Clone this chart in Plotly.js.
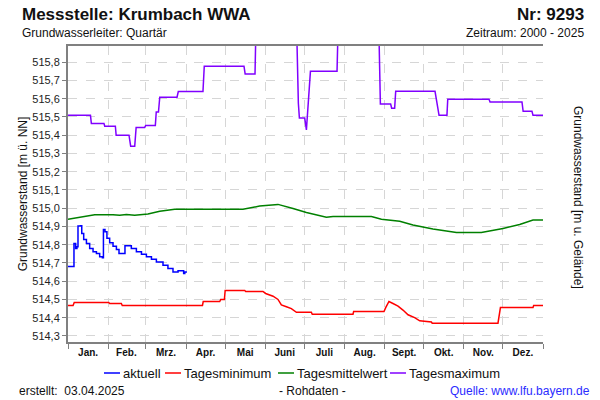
<!DOCTYPE html>
<html>
<head>
<meta charset="utf-8">
<script src="https://cdn.plot.ly/plotly-3.0.1.min.js"></script>
<style>html,body{margin:0;padding:0;background:#fff;}#chart{width:600px;height:400px;}</style>
</head>
<body>
<div id="chart"></div>
<script>
// Tag im Jahr (0 = 1. Jan.) und Wasserstand [m ü. NN]
const aktuellX = [0,3.9,4.6,5.9,6.9,7.7,9.6,10.6,12.1,14.2,16.7,19.3,21.9,24.4,26.5,27.3,28.5,30,32.1,34.7,37.3,39.3,42.9,43.9,46.2,48.8,52.7,56.6,60.4,64.3,68.1,73.2,77,80.9,84.8,87.4,89.1,90,91.7];
const aktuellY = [514.681,514.681,514.807,514.78,514.789,514.902,514.904,514.862,514.829,514.807,514.78,514.761,514.752,514.734,514.728,514.884,514.871,514.835,514.811,514.792,514.774,514.752,514.752,514.794,514.794,514.78,514.761,514.748,514.734,514.721,514.706,514.688,514.67,514.651,514.657,514.657,514.643,514.651,514.651];

const minX = [0,3.9,4.8,31.4,32.1,41.1,41.8,103.6,104.2,116.9,117.7,120.5,121.1,136.2,136.9,150.2,152.3,158,161.8,164.4,168.3,172.1,176,187.5,188.2,219.6,220.1,243.5,244.8,247.3,250.4,254.3,258.1,262,267.1,271,280,280.6,331.3,333.2,358.3,358.8,366];
const minY = [514.467,514.467,514.483,514.483,514.478,514.478,514.467,514.467,514.489,514.489,514.5,514.5,514.549,514.549,514.544,514.544,514.533,514.518,514.5,514.47,514.46,514.45,514.43,514.43,514.419,514.419,514.434,514.434,514.455,514.489,514.478,514.464,514.442,514.416,514.401,514.383,514.377,514.37,514.37,514.456,514.456,514.467,514.467];

const meanX = [0,9,20.6,34.7,39.8,45,51.4,61.6,70.7,82.2,134.8,147.7,158,161.8,173.4,183.7,199.1,204.2,233.8,241.5,255.6,265.8,281.2,299.3,318.5,335.2,348,358.3,366];
const meanY = [514.939,514.95,514.964,514.964,514.961,514.966,514.961,514.968,514.984,514.994,514.994,515.012,515.017,515.021,514.999,514.977,514.951,514.955,514.955,514.94,514.929,514.908,514.886,514.867,514.867,514.889,514.911,514.935,514.935];

const maxX = [0,17.3,18,27.7,28.3,36.5,37.1,47,48.3,51.4,52.5,59.1,59.9,67.3,68,69.7,70.7,84,85,104,105,135.6,136.5,144.1,145.4,175.5,177.5,178.3,182.4,183.7,186.8,207.3,208.8,238.9,240.7,248.6,249.4,251.7,252.5,282.8,285.9,292,292.6,324.4,325.2,349.8,350.7,357.5,358.3,366];
const maxY = [515.51,515.51,515.465,515.465,515.449,515.449,515.4,515.4,515.34,515.34,515.443,515.443,515.454,515.454,515.527,515.527,515.608,515.608,515.639,515.639,515.778,515.778,515.736,515.736,516.2,516.2,515.575,515.494,515.494,515.429,515.75,515.75,516.2,516.2,515.571,515.571,515.548,515.548,515.641,515.641,515.509,515.509,515.597,515.597,515.582,515.582,515.531,515.531,515.509,515.509];

const monthStarts = [0,31,60,91,121,152,182,213,244,274,305,335,366];
const monthMids = [15.5,45,75.5,106,136.5,167,197.5,228.5,259,289.5,320,350.5];
const monthLabels = ["Jan.","Feb.","Mrz.","Apr.","Mai","Juni","Juli","Aug.","Sept.","Okt.","Nov.","Dez."];
const seriesNames = ["aktuell","Tagesminimum","Tagesmittelwert","Tagesmaximum"];
const seriesColors = ["#0000ff","#ff0000","#008000","#8000ff"];
const groundLevel = 517.6;
const yRange = [514.267, 515.889];

const FONT = "Liberation Sans, Arial, sans-serif";
const AX = "#808080";
const GRID = "#d6d6d6";

// paper-coordinate helpers (plot area: x 68..543, y 46..342)
const px = v => (v - 68) / 475;
const py = v => (342 - v) / 296;

const seriesX = [aktuellX, minX, meanX, maxX];
const seriesY = [aktuellY, minY, meanY, maxY];
const traces = seriesNames.map((n, i) => ({
  x: seriesX[i], y: seriesY[i], name: n, mode: "lines", showlegend: false,
  line: {color: seriesColors[i], width: 1.5, shape: i === 0 ? "hv" : "linear"}
}));

// legend drawn below the chart, as in the reference
const legendLineStart = [104, 165, 278, 390];
const legendShapes = seriesNames.map((n, i) => ({
  type: "line", xref: "paper", yref: "paper",
  x0: px(legendLineStart[i]), x1: px(legendLineStart[i] + 16), y0: py(373), y1: py(373),
  line: {color: seriesColors[i], width: 1.5}
}));
const legendTexts = seriesNames.map((n, i) => ({
  text: n, xref: "paper", yref: "paper", x: px(legendLineStart[i] + 17), y: py(373),
  xanchor: "left", yanchor: "middle", showarrow: false, font: {family: FONT, size: 13, color: "#111"}
}));

const layout = {
  width: 600, height: 400,
  margin: {l: 68, r: 57, t: 46, b: 58},
  paper_bgcolor: "#fff", plot_bgcolor: "#fff",
  separators: ",.",
  font: {family: FONT, size: 11, color: "#222"},
  showlegend: false,
  xaxis: {
    range: [0, 366], showgrid: false, zeroline: false,
    tickmode: "array", tickvals: monthMids, ticktext: monthLabels, ticks: "",
    tickfont: {family: FONT, size: 10, color: "#111", weight: "bold"},
    showline: true, linecolor: AX, linewidth: 2, mirror: true,
    minor: {tickmode: "array", tickvals: monthStarts, ticks: "outside", ticklen: 5, tickcolor: AX, tickwidth: 1,
            showgrid: true, gridcolor: GRID, griddash: "dash", gridwidth: 1}
  },
  yaxis: {
    range: yRange, tick0: 514.3, dtick: 0.1, tickformat: ".1f",
    ticks: "outside", ticklen: 4, tickcolor: AX,
    showgrid: true, gridcolor: GRID, griddash: "dash", zeroline: false,
    showline: true, linecolor: AX, linewidth: 2,
    tickfont: {family: FONT, size: 11, color: "#222"},
    title: {text: "Grundwasserstand [m ü. NN]", font: {family: FONT, size: 12, color: "#111"}, standoff: 2}
  },
  yaxis2: {
    overlaying: "y", side: "right", anchor: "x",
    range: [groundLevel - yRange[0], groundLevel - yRange[1]],
    tick0: 1.8, dtick: 0.1, tickformat: ".1f",
    ticks: "outside", ticklen: 4, tickcolor: AX,
    showgrid: false, zeroline: false, showline: true, linecolor: AX, linewidth: 2,
    tickfont: {family: FONT, size: 11, color: "#222"}
  },
  title: {text: "Messstelle: Krumbach WWA", font: {family: FONT, size: 17, color: "#111", weight: "bold"},
          xref: "container", x: 22/600, xanchor: "left", yref: "container", y: 1 - 14/400, yanchor: "middle"},
  shapes: legendShapes,
  annotations: [
    {text: "Grundwasserleiter: Quartär", xref: "paper", yref: "paper", x: px(20), y: py(33), xanchor: "left", yanchor: "middle", showarrow: false, font: {family: FONT, size: 12, color: "#111"}},
    {text: "Nr: 9293", xref: "paper", yref: "paper", x: px(586), y: py(14), xanchor: "right", yanchor: "middle", showarrow: false, font: {family: FONT, size: 17, color: "#111", weight: "bold"}},
    {text: "Zeitraum: 2000 - 2025", xref: "paper", yref: "paper", x: px(586), y: py(33), xanchor: "right", yanchor: "middle", showarrow: false, font: {family: FONT, size: 12, color: "#111"}},
    {text: "Grundwasserstand [m u. Gelände]", xref: "paper", yref: "paper", x: px(578), y: 0.49, xanchor: "center", yanchor: "middle", textangle: 90, showarrow: false, font: {family: FONT, size: 12, color: "#111"}},
    {text: "erstellt:\u00a0 03.04.2025", xref: "paper", yref: "paper", x: px(17), y: py(391), xanchor: "left", yanchor: "middle", showarrow: false, font: {family: FONT, size: 12, color: "#111"}},
    {text: "- Rohdaten -", xref: "paper", yref: "paper", x: px(312), y: py(391), xanchor: "center", yanchor: "middle", showarrow: false, font: {family: FONT, size: 12, color: "#111"}},
    {text: "Quelle: www.lfu.bayern.de", xref: "paper", yref: "paper", x: px(592), y: py(391), xanchor: "right", yanchor: "middle", showarrow: false, font: {family: FONT, size: 12, color: "#2b2bff"}}
  ].concat(legendTexts)
};

Plotly.newPlot("chart", traces, layout, {staticPlot: true, displayModeBar: false});
</script>
</body>
</html>
